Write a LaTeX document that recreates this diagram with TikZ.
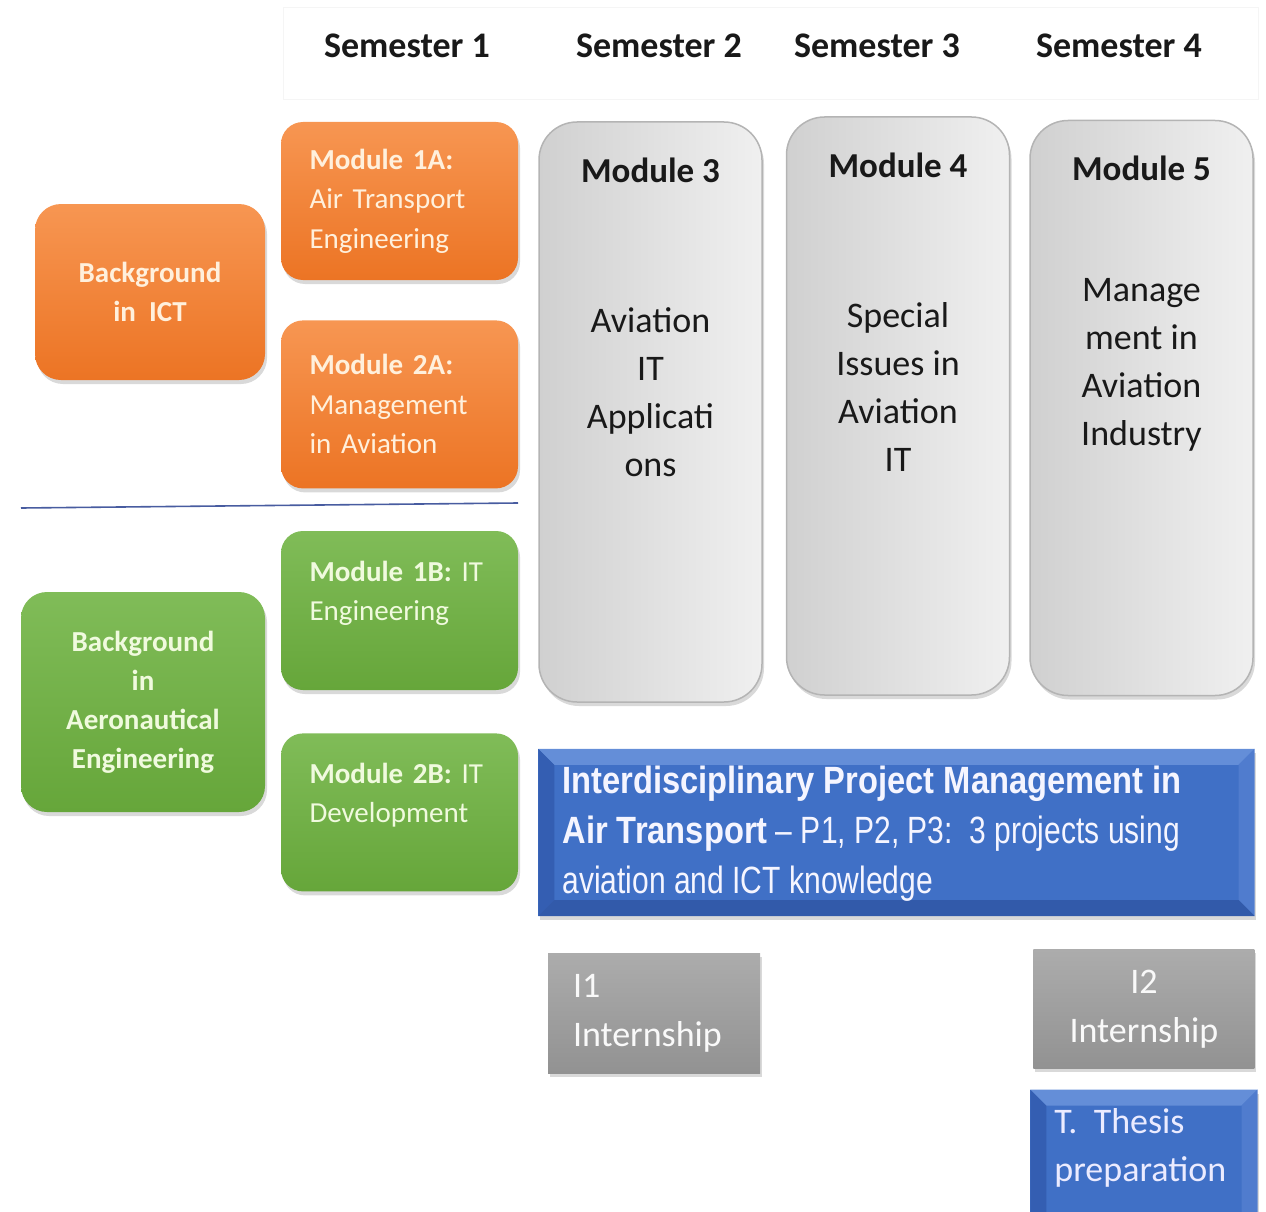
\documentclass[tikz,border=0pt]{standalone}
\usepackage{fontspec}
\setmainfont{Carlito}
\newfontfamily\narrowfont[FakeStretch=0.86]{Liberation Sans}
\newfontfamily\narrowreg[FakeStretch=0.79]{Liberation Sans}
\usepackage{tikz}
\usetikzlibrary{positioning,shadows,calc}

\definecolor{orangeTop}{RGB}{247,150,82}
\definecolor{orangeBot}{RGB}{236,116,36}
\definecolor{greenTop}{RGB}{128,188,88}
\definecolor{greenBot}{RGB}{102,166,58}
\definecolor{txtOrange}{RGB}{255,240,220}
\definecolor{txtGreen}{RGB}{240,250,222}
\definecolor{greyLeft}{RGB}{208,208,208}
\definecolor{greyRight}{RGB}{240,240,240}
\definecolor{greyRim}{RGB}{180,180,180}
\definecolor{internTop}{RGB}{172,172,172}
\definecolor{internBot}{RGB}{146,146,146}
\definecolor{blueMain}{RGB}{64,112,198}
\definecolor{blueLight}{RGB}{100,142,216}
\definecolor{blueDark}{RGB}{52,94,178}
\definecolor{blueSide}{RGB}{80,124,206}
\definecolor{blueLow}{RGB}{50,90,170}
\definecolor{sepBlue}{RGB}{72,92,160}

\begin{document}
\begin{tikzpicture}[
    x=1pt, y=-1pt,
    every node/.style={inner sep=0pt},
    shade/.style={drop shadow={shadow xshift=2pt, shadow yshift=-4pt, opacity=0.3}},
    modbox/.style={rectangle, rounded corners=22pt, shade, align=left,
                   text width=180pt, inner xsep=28.5pt,
                   font=\fontsize{29}{39.5}\selectfont},
    orangebox/.style={modbox, top color=orangeTop, bottom color=orangeBot, text=txtOrange},
    greenbox/.style={modbox, top color=greenTop, bottom color=greenBot, text=txtGreen},
    bgbox/.style={rectangle, rounded corners=26pt, shade, align=center,
                  font=\bfseries\fontsize{29}{39}\selectfont},
    greybox/.style={rectangle, rounded corners=38pt, shade, draw=greyRim, line width=1.5pt,
                    left color=greyLeft, right color=greyRight,
                    minimum width=223pt},
    modtitle/.style={font=\bfseries\fontsize{35}{40}\selectfont, text=black!90},
    modbody/.style={align=center, font=\fontsize{36}{48}\selectfont, text=black!90},
    internbox/.style={rectangle, shade, top color=internTop, bottom color=internBot,
                      text=white!95!gray, font=\fontsize{36}{49}\selectfont},
    bevelbox/.style={rectangle, shade, fill=blueMain},
    semlabel/.style={font=\bfseries\fontsize{36}{44}\selectfont, text=black!90},
    hdrbox/.style={rectangle, draw=gray!8, line width=1pt},
    sepline/.style={draw=sepBlue, line width=1.6pt},
]
\useasboundingbox (0,0) rectangle (1266,1212);

% Header
\node[hdrbox, minimum width=975pt, minimum height=92pt] (hdr) at (770.5,54) {};
\foreach \i/\x in {1/407,2/659,3/877,4/1119}
  \node[semlabel] (sem\i) at (\x,46) {Semester \i};

% Backgrounds
\node[bgbox, top color=orangeTop, bottom color=orangeBot, text=txtOrange,
      minimum width=230pt, minimum height=176pt] (ict) at (150,292) {Background\\in\ \ ICT};
\node[bgbox, top color=greenTop, bottom color=greenBot, text=txtGreen,
      minimum width=244pt, minimum height=220pt] (aero) at (143,702) {Background\\in\\Aeronautical\\Engineering};

% Semester 1 modules
\node[orangebox, minimum height=158pt] (m1a) at (399.5,201) {\textbf{Module 1A:}\\Air Transport\\Engineering};
\node[orangebox, minimum height=168pt, below=40pt of m1a] (m2a) {\textbf{Module 2A:}\\Management\\in Aviation};
\node[greenbox, minimum height=159pt] (m1b) at (399.5,610.5) {\textbf{Module 1B:} IT\\Engineering\\~};
\node[greenbox, minimum height=158pt, below=43pt of m1b] (m2b) {\textbf{Module 2B:} IT\\Development\\~};

\coordinate (sepL) at (21,508);
\coordinate (sepR) at (518,503);
\draw[sepline] (sepL) -- (sepR);

% Semester 2-4 modules
\node[greybox, minimum height=580pt] (m3) at (650.5,412) {};
\node[greybox, minimum height=578pt, right=23pt of m3, yshift=6pt] (m4) {};
\node[greybox, minimum height=575pt, right=19pt of m4, yshift=-2pt] (m5) {};

\node[modtitle, below=36pt of m3.north] (m3t) {Module 3};
\node[modtitle, below=36pt of m4.north] (m4t) {Module 4};
\node[modtitle, below=36pt of m5.north] (m5t) {Module 5};
\node[modbody] (m3b) at ($(m3)+(0,-20)$) {Aviation\\IT\\Applicati\\ons};
\node[modbody] (m4b) at ($(m4)+(0,-19)$) {Special\\Issues in\\Aviation\\IT};
\node[modbody] (m5b) at ($(m5)+(0,-43)$) {Manage\\ment in\\Aviation\\Industry};

% Project, internships, thesis
\node[bevelbox, minimum width=716pt, minimum height=167pt,
      below right=46pt and 0pt of m3.south west] (proj) {};
\node[internbox, minimum width=212pt, minimum height=120pt,
      text width=162pt, inner xsep=25pt, align=left] (i1) at (654,1013) {I1\\Internship};
\node[internbox, minimum width=221pt, minimum height=119pt, align=center,
      below left=33pt and 0pt of proj.south east] (i2) {I2\\Internship};
\node[bevelbox, minimum width=227pt, minimum height=140pt, below=21pt of i2] (thesis) {};

\foreach \b in {proj,thesis} {
  \fill[blueLight] (\b.north west) -- (\b.north east) -- ($(\b.north east)+(-16,16)$) -- ($(\b.north west)+(16,16)$) -- cycle;
  \fill[blueDark] (\b.north west) -- (\b.south west) -- ($(\b.south west)+(16,-16)$) -- ($(\b.north west)+(16,16)$) -- cycle;
  \fill[blueSide] (\b.north east) -- (\b.south east) -- ($(\b.south east)+(-16,-16)$) -- ($(\b.north east)+(-16,16)$) -- cycle;
  \fill[blueLow] (\b.south west) -- (\b.south east) -- ($(\b.south east)+(-16,-16)$) -- ($(\b.south west)+(16,-16)$) -- cycle;
}

\node[anchor=west, align=left, text=white!96!blue,
      font=\narrowreg\fontsize{38}{50}\selectfont] (projt) at ($(proj.west)+(24,1)$)
  {{\narrowfont\bfseries Interdisciplinary Project Management in}\\
   {\narrowfont\bfseries Air Transport} – P1, P2, P3:\ \ 3 projects using\\
   aviation and ICT knowledge};
\node[anchor=west, align=left, text=white!92!blue,
      font=\fontsize{36}{48}\selectfont] (thesist) at ($(thesis.west)+(24,-12)$)
  {T.\ \ Thesis\\preparation};
\end{tikzpicture}
\end{document}
